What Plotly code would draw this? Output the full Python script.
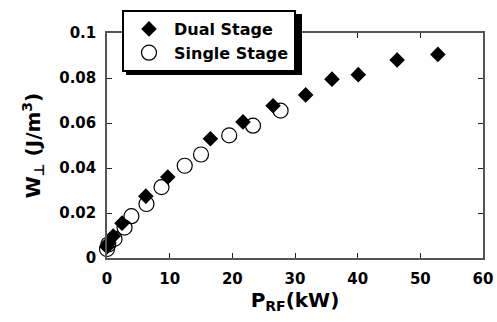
import plotly.graph_objects as go

dual_x = [0, 0.3, 1.0, 2.4, 6.2, 9.7, 16.5, 21.7, 26.5, 31.7, 35.9, 40.1, 46.3, 52.8]
dual_y = [0.005, 0.0068, 0.0098, 0.0155, 0.0275, 0.036, 0.053, 0.0605, 0.0677, 0.0725, 0.0795, 0.0815, 0.088, 0.0905]
single_x = [0, 0.2, 1.2, 2.8, 3.9, 6.3, 8.7, 12.4, 15.0, 19.5, 23.3, 27.7]
single_y = [0.004, 0.006, 0.0085, 0.0135, 0.0186, 0.024, 0.0315, 0.041, 0.046, 0.0545, 0.0588, 0.0655]

FONT = "DejaVu Sans"

fig = go.Figure()
fig.add_trace(go.Scatter(x=dual_x, y=dual_y, mode="markers", name="Dual Stage",
                         cliponaxis=False,
                         marker=dict(symbol="diamond", size=12, color="black", line=dict(width=0))))
fig.add_trace(go.Scatter(x=single_x, y=single_y, mode="markers", name="Single Stage",
                         cliponaxis=False,
                         marker=dict(symbol="circle-open", size=15, color="black", line=dict(width=1.2))))

L, R, T, B = 107, 14, 33, 64
W, H = 497, 322
pw, ph = W - L - R, H - T - B

def px2paper(x, y):
    return (x - L) / pw, (H - B - y) / ph

# legend shadow
x0, y0 = px2paper(126, 14)
x1, y1 = px2paper(302, 75)
fig.add_shape(type="rect", xref="paper", yref="paper", x0=x0, x1=x1, y0=y1, y1=y0,
              fillcolor="black", line=dict(width=0), layer="above")

lx, ly = px2paper(122, 10)
axis_common = dict(showline=True, linecolor="#555", linewidth=1.5, mirror="allticks",
                   ticks="inside", ticklen=5, tickwidth=1.2, tickcolor="#222",
                   showgrid=False, zeroline=False,
                   tickfont=dict(family=FONT, size=15, color="black", weight="bold"))
fig.update_layout(
    width=W, height=H, margin=dict(l=L, r=R, t=T, b=B, autoexpand=False),
    plot_bgcolor="white", paper_bgcolor="white",
    font=dict(family=FONT, color="black"),
    showlegend=True,
    legend=dict(x=lx, y=ly, xanchor="left", yanchor="top", bgcolor="white",
                bordercolor="black", borderwidth=2, itemwidth=40,
                font=dict(family=FONT, size=16, color="black", weight="bold"), tracegroupgap=0),
    xaxis=dict(range=[0, 60], dtick=10, tick0=0,
               title=dict(text="P<sub>RF</sub>(kW)", font=dict(family=FONT, size=20, weight="bold"), standoff=4),
               ticklabelstandoff=6, **axis_common),
    yaxis=dict(range=[0, 0.1], dtick=0.02, tick0=0,
               title=dict(text="W<sub>⊥</sub> (J/m<sup>3</sup>)", font=dict(family=FONT, size=20, weight="bold"), standoff=13),
               ticklabelstandoff=6, **axis_common),
)
fig.write_html("out.html", post_script="document.body.style.margin='0';",
               config={"displayModeBar": False})
